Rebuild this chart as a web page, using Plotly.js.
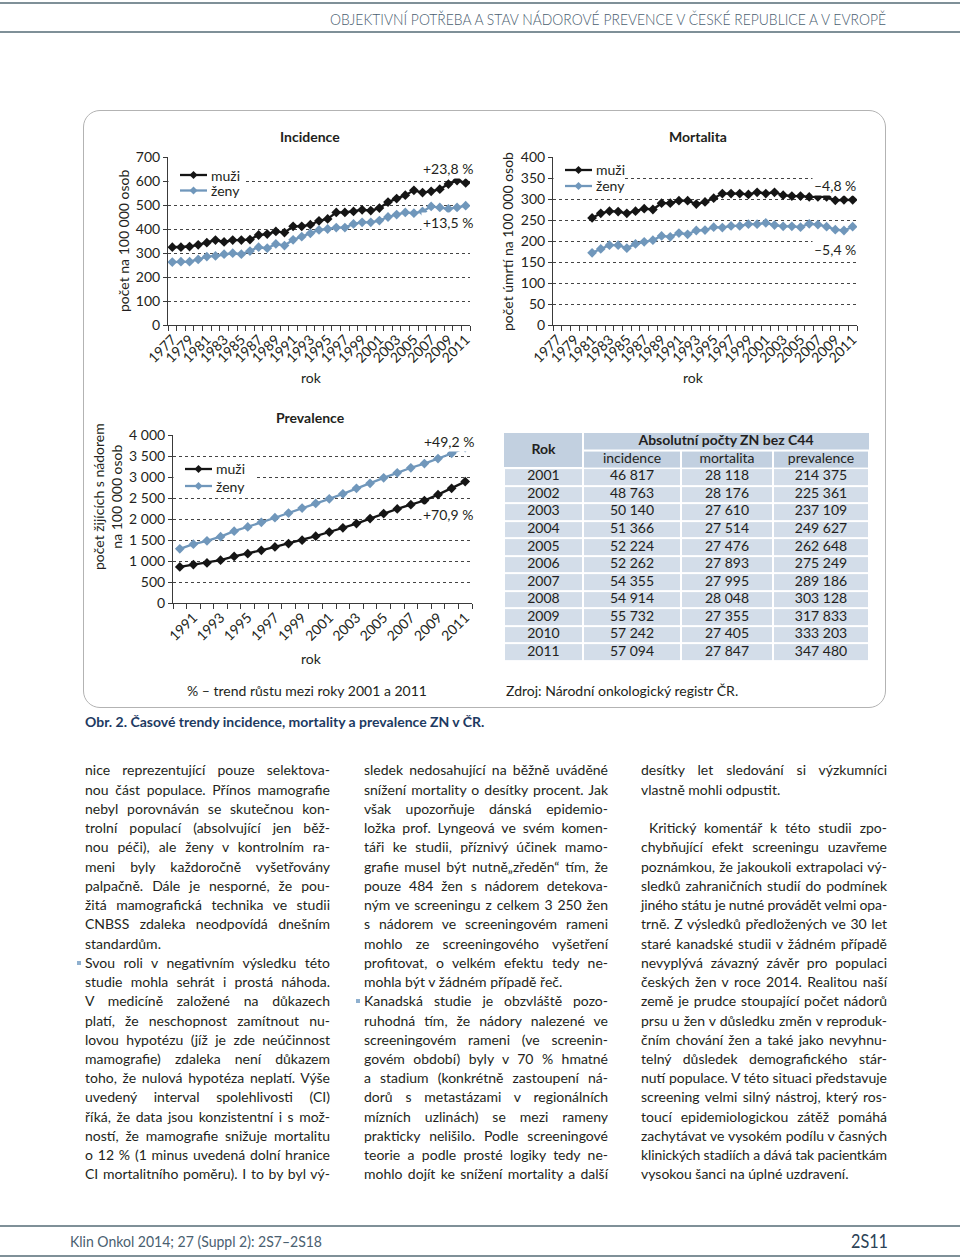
<!DOCTYPE html>
<html><head><meta charset="utf-8">
<script src="https://cdn.plot.ly/plotly-3.0.1.min.js"></script>
<style>
html,body{margin:0;padding:0;background:#fff;}
body{width:960px;height:1258px;position:relative;overflow:hidden;font-family:Lato,"Open Sans",sans-serif;color:#231f20;}
#box{position:absolute;left:83px;top:110px;width:803px;height:598px;border:1px solid #b3b3b3;border-radius:17px;box-sizing:border-box;}
#plot{position:absolute;left:0;top:0;width:960px;height:1258px;}
.rule{position:absolute;left:0;width:960px;height:2px;background:#7f9098;}
.fit{position:absolute;white-space:nowrap;}
.ln{position:absolute;left:0;height:19.24px;line-height:19.24px;white-space:nowrap;}
.bul{position:absolute;width:4px;height:4px;background:#8fb0cf;}
#cap{position:absolute;left:85px;top:713px;font-size:14px;font-weight:bold;color:#1d3a62;white-space:nowrap;}
</style></head>
<body>
<div class="rule" style="top:2px"></div>
<div class="rule" style="top:31px"></div>
<div class="fit" id="hdr" style="left:330px;top:10px;font-size:15px;color:#4a6070;font-weight:300;transform-origin:left center;">OBJEKTIVNÍ POTŘEBA A STAV NÁDOROVÉ PREVENCE V ČESKÉ REPUBLICE A V EVROPĚ</div>
<div id="box"></div>
<div id="plot"></div>
<div id="cap">Obr. 2. Časové trendy incidence, mortality a prevalence ZN v ČR.</div>
<div id="text"></div>
<div class="rule" style="top:1225px"></div>
<div class="rule" style="top:1255px"></div>
<div class="fit" id="ftl" style="left:70px;top:1232px;font-size:15px;color:#4a6070;transform-origin:left center;">Klin Onkol 2014; 27 (Suppl 2): 2S7–2S18</div>
<div class="fit" id="ftr" style="left:851px;top:1228px;font-size:20px;color:#2c4256;transform-origin:left center;">2S11</div>
<script>
// ---------- DATA ----------
const incYears = [1977,1978,1979,1980,1981,1982,1983,1984,1985,1986,1987,1988,1989,1990,1991,1992,1993,1994,1995,1996,1997,1998,1999,2000,2001,2002,2003,2004,2005,2006,2007,2008,2009,2010,2011];
const incMen   = [324,324,327,334,343,354,346,354,354,356,375,379,390,385,411,411,418,434,442,469,469,473,480,477,487,512,527,541,561,552,557,566,587,602,592];
const incWomen = [262,264,264,273,285,288,295,299,295,308,324,320,338,331,355,368,382,396,400,406,406,421,428,428,435,450,460,469,466,473,494,490,484,490,497];

const mortYears = [1981,1982,1983,1984,1985,1986,1987,1988,1989,1990,1991,1992,1993,1994,1995,1996,1997,1998,1999,2000,2001,2002,2003,2004,2005,2006,2007,2008,2009,2010,2011];
const mortMen   = [255,266,271,270,266,271,277,275,290,290,296,296,288,293,302,313,313,313,311,316,313,316,309,307,307,305,305,305,297,298,298];
const mortWomen = [172,181,190,190,183,193,198,202,212,210,219,216,225,226,233,232,236,236,240,240,243,238,235,235,233,241,239,234,227,225,234];

const prevYears = [1990,1991,1992,1993,1994,1995,1996,1997,1998,1999,2000,2001,2002,2003,2004,2005,2006,2007,2008,2009,2010,2011];
const prevMen   = [860,915,955,1020,1110,1175,1255,1335,1415,1495,1590,1690,1790,1890,2010,2130,2240,2340,2440,2580,2730,2890];
const prevWomen = [1290,1400,1480,1580,1710,1810,1920,2030,2140,2260,2370,2480,2600,2730,2850,2980,3100,3220,3320,3440,3560,3700];

const incTicks  = [1977,1979,1981,1983,1985,1987,1989,1991,1993,1995,1997,1999,2001,2003,2005,2007,2009,2011];
const prevTicks = [1991,1993,1995,1997,1999,2001,2003,2005,2007,2009,2011];

const tabYears = [2001,2002,2003,2004,2005,2006,2007,2008,2009,2010,2011];
const tabInc   = [46817,48763,50140,51366,52224,52262,54355,54914,55732,57242,57094];
const tabMort  = [28118,28176,27610,27514,27476,27893,27995,28048,27355,27405,27847];
const tabPrev  = [214375,225361,237109,249627,262648,275249,289186,303128,317833,333203,347480];
const tabCols  = ['incidence','mortalita','prevalence'];
const tabHead  = 'Absolutní počty ZN bez C44';
const tabRok   = 'Rok';

const seriesNames = ['muži','ženy'];
const pctInc  = ['+23,8 %','+13,5 %'];
const pctMort = ['–4,8 %','–5,4 %'];
const pctPrev = ['+49,2 %','+70,9 %'];

// ---------- HELPERS ----------
const W = 960, H = 1258;
const px = x => x / W;
const py = y => 1 - y / H;
const FF = 'Lato, "Open Sans", sans-serif';
const TXT = '#231f20';
const font14 = {family: FF, size: 14, color: TXT};
const MEN = '#151515', WOMEN = '#7097bb';
const fmt = n => String(n).replace(/\B(?=(\d{3})+(?!\d))/g, ' ');

function xAxis(d0, d1, r0, r1, ticks, anchor) {
  return {domain:[px(d0), px(d1)], range:[r0, r1], type:'linear', anchor,
    tickmode:'array', tickvals:ticks, ticktext:ticks.map(String), tickangle:-45,
    ticks:'', showline:true, linecolor:'#3a3a3a', linewidth:1, showgrid:false, zeroline:false,
    tickfont:font14, fixedrange:true,
    minor:{tickmode:'linear', tick0:r0, dtick:1, ticks:'outside', ticklen:5, tickcolor:'#3a3a3a', tickwidth:1, showgrid:false}};
}
function yAxis(top, bot, max, dtick, anchor) {
  return {domain:[py(bot), py(top)], range:[0, max], tickmode:'linear', tick0:0, dtick, anchor,
    showgrid:true, griddash:'dot', gridcolor:'#444', gridwidth:1,
    showline:true, linecolor:'#3a3a3a', linewidth:1, ticks:'outside', ticklen:4, tickcolor:'#3a3a3a',
    zeroline:false, tickfont:font14, separatethousands:true, fixedrange:true};
}
function tr(x, y, name, color, xa, ya) {
  return {type:'scatter', mode:'lines+markers', x, y, name, xaxis:xa, yaxis:ya, showlegend:false,
    line:{color, width:2.3}, marker:{symbol:'diamond', size:7.5, color}, hoverinfo:'skip'};
}
function ann(text, x, y, o) {
  return Object.assign({text, x:px(x), y:py(y), xref:'paper', yref:'paper', showarrow:false,
    font:font14, xanchor:'center', yanchor:'middle'}, o || {});
}

const annotations = [];
const shapes = [];

// legend boxes drawn by hand (line + diamond + label), white background over gridlines
function legendBox(x, y, dy, bg) {
  shapes.push({type:'rect', xref:'paper', yref:'paper', x0:px(bg[0]), x1:px(bg[1]), y0:py(bg[3]), y1:py(bg[2]),
    fillcolor:'#ffffff', line:{width:0}, layer:'above'});
  [MEN, WOMEN].forEach((c, i) => {
    const yy = y + i * dy, cx = x + 13.5, r = 4;
    shapes.push({type:'line', xref:'paper', yref:'paper', x0:px(x), x1:px(x + 27), y0:py(yy), y1:py(yy),
      line:{color:c, width:2.3}, layer:'above'});
    shapes.push({type:'path', xref:'paper', yref:'paper', layer:'above', fillcolor:c, line:{color:c, width:0},
      path:`M${px(cx)},${py(yy - r)} L${px(cx + r)},${py(yy)} L${px(cx)},${py(yy + r)} L${px(cx - r)},${py(yy)} Z`});
    annotations.push(ann(seriesNames[i], x + 29, yy, {xanchor:'left'}));
  });
}
legendBox(180, 175, 15.5, [168.5, 246, 164, 199]);
legendBox(565, 170, 16, [553.5, 623, 160, 194]);
legendBox(185, 469, 17, [173.5, 256, 460, 494]);

const traces = [
  tr(incYears, incMen, seriesNames[0], MEN, 'x', 'y'),
  tr(incYears, incWomen, seriesNames[1], WOMEN, 'x', 'y'),
  tr(mortYears, mortMen, seriesNames[0], MEN, 'x2', 'y2'),
  tr(mortYears, mortWomen, seriesNames[1], WOMEN, 'x2', 'y2'),
  tr(prevYears, prevMen, seriesNames[0], MEN, 'x3', 'y3'),
  tr(prevYears, prevWomen, seriesNames[1], WOMEN, 'x3', 'y3')
];

// ---------- TABLE (axis 4: x in column units, y in row units, top = 0) ----------
const colEdges = [0, 79, 177, 269, 365];
const CELL = '#d3dde9', HEAD = '#c2d0e0';
const rowEdges = [2].concat(tabYears.map((_, i) => i + 3));
traces.push({type:'heatmap', xaxis:'x4', yaxis:'y4', x:colEdges, y:rowEdges,
  z:tabYears.map(() => colEdges.slice(1).map(() => 1)), colorscale:[[0, CELL], [1, CELL]],
  showscale:false, xgap:2, ygap:2, hoverinfo:'skip', zmin:0, zmax:1});
traces.push({type:'heatmap', xaxis:'x4', yaxis:'y4', x:colEdges.slice(1), y:[1, 2],
  z:[tabCols.map(() => 1)], colorscale:[[0, HEAD], [1, HEAD]],
  showscale:false, xgap:2, ygap:2, hoverinfo:'skip', zmin:0, zmax:1});
shapes.push({type:'rect', xref:'x4', yref:'y4', x0:0, x1:78, y0:0, y1:1.94, fillcolor:HEAD, line:{width:0}, layer:'below'});
shapes.push({type:'rect', xref:'x4', yref:'y4', x0:80, x1:365, y0:0, y1:0.94, fillcolor:HEAD, line:{width:0}, layer:'below'});
const centers = colEdges.slice(1).map((e, i) => (e + colEdges[i]) / 2);
const tx = [], ty = [], tt = [];
[tabYears.map(String), tabInc.map(fmt), tabMort.map(fmt), tabPrev.map(fmt)].forEach((col, c) => {
  col.forEach((v, r) => { tx.push(centers[c]); ty.push(r + 2.5); tt.push(v); });
});
tabCols.forEach((v, c) => { tx.push(centers[c + 1]); ty.push(1.5); tt.push(v); });
tx.push(centers[0]); ty.push(1.0); tt.push('<b>' + tabRok + '</b>');
tx.push((colEdges[1] + colEdges[4]) / 2); ty.push(0.5); tt.push('<b>' + tabHead + '</b>');
traces.push({type:'scatter', mode:'text', xaxis:'x4', yaxis:'y4', x:tx, y:ty, text:tt,
  textposition:'middle center', textfont:font14, hoverinfo:'skip', showlegend:false, cliponaxis:false});

annotations.push(
  ann('<b>Incidence</b>', 310, 137),
  ann('<b>Mortalita</b>', 698, 137),
  ann('<b>Prevalence</b>', 310, 418),
  ann('počet na 100 000 osob', 123, 241, {textangle:-90}),
  ann('počet úmrtí na 100 000 osob', 507, 241, {textangle:-90}),
  ann('počet žijících s nádorem<br>na 100 000 osob', 107, 497, {textangle:-90}),
  ann('rok', 311, 377), ann('rok', 693, 377), ann('rok', 311, 658),
  ann(pctInc[0], 475, 168, {xanchor:'right', bgcolor:'#fff'}),
  ann(pctInc[1], 475, 222, {xanchor:'right', bgcolor:'#fff'}),
  ann(pctMort[0], 858, 185, {xanchor:'right', bgcolor:'#fff'}),
  ann(pctMort[1], 858, 250, {xanchor:'right', bgcolor:'#fff'}),
  ann(pctPrev[0], 476, 441, {xanchor:'right', bgcolor:'#fff'}),
  ann(pctPrev[1], 475, 514, {xanchor:'right', bgcolor:'#fff'}),
  ann('% – trend růstu mezi roky 2001 a 2011', 185, 690, {xanchor:'left'}),
  ann('Zdroj: Národní onkologický registr ČR.', 504, 690, {xanchor:'left'})
);

const layout = {
  width:W, height:H, margin:{l:0, r:0, t:0, b:0}, paper_bgcolor:'rgba(0,0,0,0)', plot_bgcolor:'rgba(0,0,0,0)',
  separators:', ', font:font14, showlegend:false, hovermode:false,
  xaxis: xAxis(168, 470, 1976.5, 2011.5, incTicks, 'y'),
  yaxis: yAxis(157, 325, 700, 100, 'x'),
  xaxis2: xAxis(553, 857, 1976.5, 2011.5, incTicks, 'y2'),
  yaxis2: yAxis(157, 325, 400, 50, 'x2'),
  xaxis3: xAxis(173, 472, 1989.5, 2011.5, prevTicks, 'y3'),
  yaxis3: yAxis(435, 603, 4000, 500, 'x3'),
  xaxis4: {domain:[px(504), px(869)], range:[0, 365], visible:false, fixedrange:true, anchor:'y4'},
  yaxis4: {domain:[py(661), py(433)], range:[13, 0], visible:false, fixedrange:true, anchor:'x4'},
  annotations, shapes
};
Plotly.newPlot('plot', traces, layout, {staticPlot:true, displayModeBar:false});

// ---------- BODY TEXT ----------
const col1 = [
 ['nice reprezentující pouze selektova-',1],['nou část populace. Přínos mamografie',1],['nebyl porovnáván se skutečnou kon-',1],
 ['trolní populací (absolvující jen běž-',1],['nou péči), ale ženy v kontrolním ra-',1],['meni byly každoročně vyšetřovány',1],
 ['palpačně. Dále je nesporné, že pou-',1],['žitá mamografická technika ve studii',1],['CNBSS zdaleka neodpovídá dnešním',1],
 ['standardům.',0],['Svou roli v negativním výsledku této',1,'b'],['studie mohla sehrát i prostá náhoda.',1],
 ['V medicíně založené na důkazech',1],['platí, že neschopnost zamítnout nu-',1],['lovou hypotézu (jíž je zde neúčinnost',1],
 ['mamografie) zdaleka není důkazem',1],['toho, že nulová hypotéza neplatí. Výše',1],['uvedený interval spolehlivosti (CI)',1],
 ['říká, že data jsou konzistentní i s mož-',1],['ností, že mamografie snižuje mortalitu',1],['o 12 % (1 minus uvedená dolní hranice',1],
 ['CI mortalitního poměru). I to by byl vý-',1]];
const col2 = [
 ['sledek nedosahující na běžně uváděné',1],['snížení mortality o desítky procent. Jak',1],['však upozorňuje dánská epidemio-',1],
 ['ložka prof. Lyngeová ve svém komen-',1],['táři ke studii, příznivý účinek mamo-',1],['grafie musel být nutně„zředěn“ tím, že',1],
 ['pouze 484 žen s nádorem detekova-',1],['ným ve screeningu z celkem 3 250 žen',1],['s nádorem ve screeningovém rameni',1],
 ['mohlo ze screeningového vyšetření',1],['profitovat, o velkém efektu tedy ne-',1],['mohla být v žádném případě řeč.',0],
 ['Kanadská studie je obzvláště pozo-',1,'b'],['ruhodná tím, že nádory nalezené ve',1],['screeningovém rameni (ve screenin-',1],
 ['govém období) byly v 70 % hmatné',1],['a stadium (konkrétně zastoupení ná-',1],['dorů s metastázami v regionálních',1],
 ['mízních uzlinách) se mezi rameny',1],['prakticky nelišilo. Podle screeningové',1],['teorie a podle prosté logiky tedy ne-',1],
 ['mohlo dojít ke snížení mortality a další',1]];
const col3 = [
 ['desítky let sledování si výzkumníci',1],['vlastně mohli odpustit.',0],['',0],
 ['Kritický komentář k této studii zpo-',1,'i'],['chybňující efekt screeningu uzavřeme',1],['poznámkou, že jakoukoli extrapolaci vý-',1],
 ['sledků zahraničních studií do podmínek',1],['jiného státu je nutné provádět velmi opa-',1],['trně. Z výsledků předložených ve 30 let',1],
 ['staré kanadské studii v žádném případě',1],['nevyplývá závazný závěr pro populaci',1],['českých žen v roce 2014. Realitou naší',1],
 ['země je prudce stoupající počet nádorů',1],['prsu u žen v důsledku změn v reproduk-',1],['čním chování žen a také jako nevyhnu-',1],
 ['telný důsledek demografického stár-',1],['nutí populace. V této situaci představuje',1],['screening velmi silný nástroj, který ros-',1],
 ['toucí epidemiologickou zátěž pomáhá',1],['zachytávat ve vysokém podílu v časných',1],['klinických stadiích a dává tak pacientkám',1],
 ['vysokou šanci na úplné uzdravení.',0]];

const LH = 19.24, TOP = 760.4;
const host = document.getElementById('text');
function buildCol(lines, left, width) {
  lines.forEach((l, i) => {
    const d = document.createElement('div');
    d.className = 'ln';
    const indent = l[2] === 'i' ? 8 : 0;
    d.style.left = (left + indent) + 'px';
    d.style.top = (TOP + i * LH) + 'px';
    d.style.fontSize = '14px';
    d.textContent = l[0];
    d.dataset.j = l[1];
    d.dataset.w = width - indent;
    host.appendChild(d);
    if (l[2] === 'b') {
      const b = document.createElement('div');
      b.className = 'bul';
      b.style.left = (left - 8) + 'px';
      b.style.top = (TOP + i * LH + 8) + 'px';
      host.appendChild(b);
    }
  });
}
buildCol(col1, 85, 245);
buildCol(col2, 364, 244);
buildCol(col3, 641, 246);

function justify() {
  document.querySelectorAll('.ln').forEach(d => {
    const w = +d.dataset.w;
    d.style.wordSpacing = '0px'; d.style.letterSpacing = '0px';
    const nat = d.getBoundingClientRect().width;
    const spaces = (d.textContent.match(/ /g) || []).length;
    if (nat > w) {
      const chars = d.textContent.length;
      d.style.letterSpacing = ((w - nat) / chars) + 'px';
    } else if (d.dataset.j === '1' && spaces > 0) {
      d.style.wordSpacing = ((w - nat) / spaces) + 'px';
    }
  });
  const fit = (id, w) => { const e = document.getElementById(id); e.style.transform = 'none';
    const n = e.getBoundingClientRect().width; e.style.transform = 'scaleX(' + (w / n) + ')'; };
  fit('hdr', 556); fit('ftl', 252); fit('ftr', 37);
}
justify();
if (document.fonts && document.fonts.ready) document.fonts.ready.then(justify);
</script>
</body></html>
